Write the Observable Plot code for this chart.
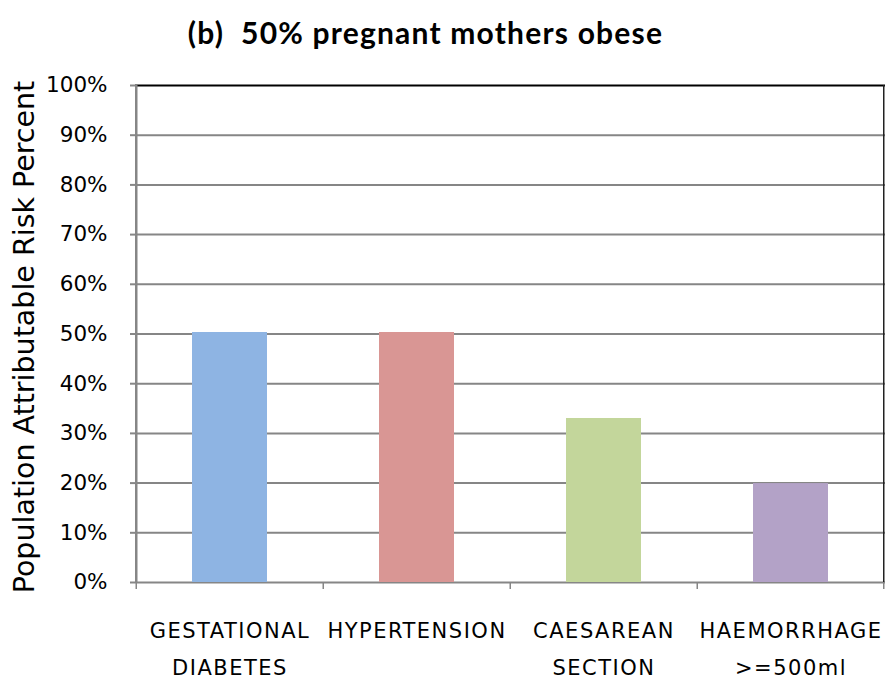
<!DOCTYPE html>
<html>
<head>
<meta charset="utf-8">
<script src="https://cdn.jsdelivr.net/npm/d3@7"></script>
<script src="https://cdn.jsdelivr.net/npm/@observablehq/plot@0.6"></script>
<style>
  body { margin: 0; background: #fff; font-family: "DejaVu Sans", sans-serif; }
  #title { width: 893px; height: 60px; line-height: 64px; box-sizing: border-box; padding-right: 42px;
           text-align: center; font-family: Lato, sans-serif; font-weight: bold; font-size: 30px;
           letter-spacing: 1.2px; color: #000; }
  svg { display: block; }
</style>
</head>
<body>
<div id="title">(b)&nbsp; 50% pregnant mothers obese</div>
<div id="chart"></div>
<script>
const categories = ["GESTATIONAL DIABETES", "HYPERTENSION", "CAESAREAN SECTION", "HAEMORRHAGE >=500ml"];
const labels = ["GESTATIONAL\nDIABETES", "HYPERTENSION", "CAESAREAN\nSECTION", "HAEMORRHAGE\n>=500ml"];
const values = [50.3, 50.3, 33.0, 19.9];
const colors = ["#8EB4E3", "#D99694", "#C3D69B", "#B3A2C7"];
const yTicks = [0, 10, 20, 30, 40, 50, 60, 70, 80, 90, 100];
const yTitle = "Population Attributable Risk Percent";

const rows = categories.map((c, i) => ({category: c, label: labels[i], value: values[i], color: colors[i]}));

const W = 893, H = 623, mL = 135, mR = 8, mT = 25, mB = 101;
const bw = (W - mL - mR) / categories.length;
const grid = "#868686";

const chart = Plot.plot({
  width: W, height: H,
  marginTop: mT, marginBottom: mB, marginLeft: mL, marginRight: mR,
  style: {fontFamily: "'DejaVu Sans', sans-serif", color: "#000", background: "#fff"},
  x: {domain: categories, padding: 0, axis: null},
  y: {domain: [0, 100], axis: null},
  color: {type: "identity"},
  marks: [
    Plot.ruleY(yTicks.filter(d => d < 100), {y: d => d, stroke: grid, strokeWidth: 2}),
    Plot.ruleY([100], {y: d => d, stroke: "#000", strokeWidth: 2}),
    Plot.ruleX([categories[categories.length - 1]], {x: d => d, dx: bw / 2 - 1, y1: 0, y2: 100, stroke: "#222", strokeWidth: 1.5}),
    Plot.barY(rows, {x: "category", y: "value", fill: "color", insetLeft: 56, insetRight: 56}),
    Plot.ruleX([categories[0]], {x: d => d, dx: -bw / 2, y1: 0, y2: 100, stroke: grid, strokeWidth: 2.5}),
    Plot.ruleX(categories, {x: d => d, dx: -bw / 2, y1: 0, y2: 0, insetBottom: -7, stroke: grid, strokeWidth: 1.5}),
    Plot.ruleX([categories[categories.length - 1]], {x: d => d, dx: bw / 2 - 1, y1: 0, y2: 0, insetBottom: -7, stroke: grid, strokeWidth: 1.5}),
    Plot.axisY(yTicks, {tickSize: 5, tickPadding: 23, fontSize: 21.5, stroke: grid, strokeWidth: 2, tickFormat: d => d + "%", label: null}),
    Plot.text(rows, {x: "category", text: "label", frameAnchor: "bottom", lineAnchor: "top", dy: 29, fontSize: 21, lineHeight: 1.76, fill: "#000"}),
    Plot.text([yTitle], {text: d => d, frameAnchor: "left", textAnchor: "middle", rotate: -90, dx: -111, dy: 3, fontSize: 28.5, fill: "#000"})
  ]
});
// widen the category labels slightly, like the reference's spaced capitals
d3.select(chart).selectAll('g[aria-label="text"]')
  .filter((d, i) => i === 0)
  .selectAll("text")
  .style("letter-spacing", "1.5px");
document.getElementById("chart").appendChild(chart);
</script>
</body>
</html>
